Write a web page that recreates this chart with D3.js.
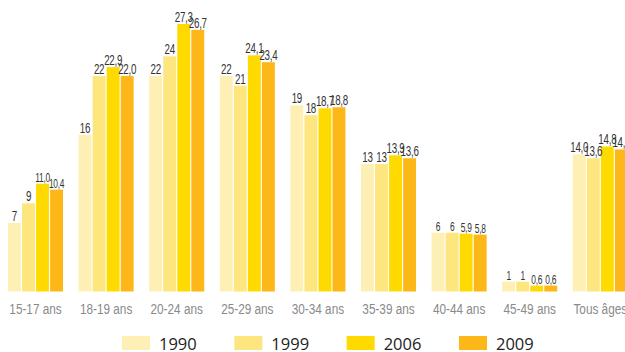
<!DOCTYPE html>
<html>
<head>
<meta charset="utf-8">
<script src="https://cdn.jsdelivr.net/npm/d3@7"></script>
<style>
  html, body { margin: 0; padding: 0; background: #fff; }
  svg { display: block; }
</style>
</head>
<body>
<svg id="chart" width="625" height="352"></svg>
<script>
// Age groups and fertility values per survey year
const ageGroups = ["15-17 ans", "18-19 ans", "20-24 ans", "25-29 ans", "30-34 ans",
                   "35-39 ans", "40-44 ans", "45-49 ans", "Tous âges"];
const years = ["1990", "1999", "2006", "2009"];
const values1990 = [7, 16, 22, 22, 19, 13, 6, 1, 14.0];
const values1999 = [9, 22, 24, 21, 18, 13, 6, 1, 13.6];
const values2006 = [11.0, 22.9, 27.3, 24.1, 18.7, 13.9, 5.9, 0.6, 14.8];
const values2009 = [10.4, 22.0, 26.7, 23.4, 18.8, 13.6, 5.8, 0.6, 14.5];
// Decimals printed in each label
const decimals1990 = [0, 0, 0, 0, 0, 0, 0, 0, 1];
const decimals1999 = [0, 0, 0, 0, 0, 0, 0, 0, 1];
const decimals2006 = [1, 1, 1, 1, 1, 1, 1, 1, 1];
const decimals2009 = [1, 1, 1, 1, 1, 1, 1, 1, 1];

const seriesValues = [values1990, values1999, values2006, values2009];
const seriesDecimals = [decimals1990, decimals1999, decimals2006, decimals2009];
const colors = ["#FEF0B4", "#FEE67F", "#FFDA00", "#FDB719"];

const svg = d3.select("#chart");
const baseline = 291.5;
const plotTop = 24;

const x0 = d3.scaleBand()
  .domain(ageGroups)
  .range([0.2, 635.6])
  .paddingInner(0.22)
  .paddingOuter(0.11);

const x1 = d3.scaleBand()
  .domain(years)
  .range([0, x0.bandwidth()])
  .paddingInner(0.08);

const y = d3.scaleLinear()
  .domain([0, 27.3])
  .range([baseline, plotTop]);

const fmt = (v, d) => d3.format("." + d + "f")(v).replace(".", ",");
const narrowFont = "'Liberation Sans', Arial, sans-serif";

const rows = [];
ageGroups.forEach((g, gi) => {
  years.forEach((yr, si) => {
    rows.push({ group: g, gi, year: yr, si, value: seriesValues[si][gi],
                dec: seriesDecimals[si][gi] });
  });
});

const gBars = svg.append("g");
gBars.selectAll("rect")
  .data(rows)
  .join("rect")
  .attr("x", d => x0(d.group) + x1(d.year))
  .attr("y", d => y(d.value))
  .attr("width", x1.bandwidth())
  .attr("height", d => baseline - y(d.value))
  .attr("fill", d => colors[d.si]);

// Value labels above each bar, in a horizontally squeezed face
const smallGroups = new Set(["40-44 ans", "45-49 ans"]);
gBars.selectAll("text")
  .data(rows)
  .join("text")
  .attr("transform", d =>
    `translate(${x0(d.group) + x1(d.year) + x1.bandwidth() / 2},${y(d.value) - 2}) scale(0.7,1)`)
  .attr("text-anchor", "middle")
  .attr("font-family", narrowFont)
  .attr("font-size", d => (smallGroups.has(d.group) || (d.gi === 0 && d.si >= 2)) ? 12 : 14)
  .attr("letter-spacing", -0.4)
  .attr("fill", "#333")
  .text(d => fmt(d.value, d.dec));

// Category axis
const xAxis = d3.axisBottom(x0).tickSize(0).tickPadding(0);
const axisG = svg.append("g")
  .attr("transform", `translate(0, ${baseline + 22})`)
  .call(xAxis);
axisG.select(".domain").remove();
axisG.selectAll("text")
  .attr("y", 0)
  .attr("dy", 0)
  .attr("transform", "scale(0.76,1)")
  .attr("font-family", narrowFont)
  .attr("font-size", 15.5)
  .attr("fill", "#8a8a8a");

// Legend
const legend = svg.append("g");
const legendX = d3.scalePoint().domain(years).range([122, 459]);
const item = legend.selectAll("g")
  .data(years)
  .join("g")
  .attr("transform", d => `translate(${legendX(d)}, 336)`);
item.append("rect")
  .attr("width", 28)
  .attr("height", 14)
  .attr("fill", (d, i) => colors[i]);
item.append("text")
  .attr("x", 37)
  .attr("y", 13.5)
  .attr("font-family", "'Open Sans', 'DejaVu Sans', sans-serif")
  .attr("font-size", 16.5)
  .attr("fill", "#222")
  .text(d => d);
</script>
</body>
</html>
